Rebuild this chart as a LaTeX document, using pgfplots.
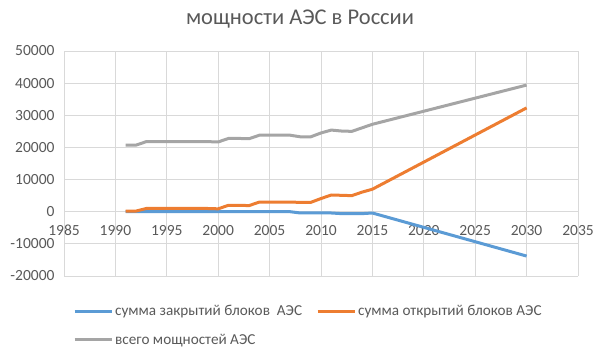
\documentclass[border=0pt]{standalone}
\usepackage{pgfplots}
\pgfplotsset{compat=1.18}
\usepackage{fontspec}
\setmainfont{Carlito}
\definecolor{cblue}{RGB}{91,155,213}
\definecolor{corange}{RGB}{237,125,49}
\definecolor{cgray}{RGB}{165,165,165}
\definecolor{ctext}{RGB}{89,89,89}
\definecolor{cgrid}{RGB}{217,217,217}
\begin{document}
\begin{tikzpicture}
\useasboundingbox (0,0) rectangle (605bp,364bp);
\node[anchor=base, text=ctext, font=\fontsize{22.5bp}{26bp}\selectfont, inner sep=0] at (300bp,339bp) {мощности АЭС в России};
\begin{axis}[
  at={(64bp,88bp)}, anchor=south west,
  scale only axis, width=514bp, height=225bp,
  xmin=1985, xmax=2035, ymin=-20000, ymax=50000,
  xtick={1985,1990,...,2035}, ytick={-20000,-10000,...,50000},
  scaled y ticks=false, scaled x ticks=false,
  hide obscured x ticks=false, hide obscured y ticks=false,
  axis x line=middle, axis y line=left,
  axis line style={-, cgrid, line width=0.8pt},
  grid=major, grid style={cgrid, line width=0.8pt},
  major tick length=0pt,
  /pgf/number format/1000 sep={},
  /pgf/number format/assume math mode=true,
  ticklabel style={text=ctext, font=\fontsize{15.5bp}{18bp}\selectfont},
  xticklabel style={yshift=-10bp},
  yticklabel style={xshift=-6bp},
  line join=round,
  legend columns=2,
  legend style={at={(9bp,-27bp)}, anchor=north west, draw=none, fill=none,
    inner sep=0pt, font=\fontsize{15.2bp}{17bp}\selectfont, text=ctext,
    /tikz/every even column/.append style={column sep=12bp},
    /tikz/every odd column/.append style={inner xsep=1bp},
    row sep=13bp},
  legend cell align=left,
  legend image code/.code={\draw[#1, line width=3bp] (0bp,0bp) -- (37bp,0bp);},
]
\addplot[cblue, line width=3bp, no markers] coordinates {
(1991,0)(1992,0)(1993,0)(1994,0)(1995,0)(1996,0)(1997,0)(1998,0)(1999,0)(2000,0)
(2001,0)(2002,0)(2003,0)(2004,0)(2005,0)(2006,0)(2007,0)(2008,-400)(2009,-400)
(2010,-400)(2011,-400)(2012,-600)(2013,-600)(2014,-600)(2015,-400)(2030,-13800)};
\addlegendentry{сумма закрытий блоков\ \ АЭС}
\addplot[corange, line width=3bp, no markers] coordinates {
(1991,200)(1992,200)(1993,1000)(1994,1000)(1995,1000)(1996,1000)(1997,1000)(1998,1000)(1999,1000)(2000,900)
(2001,2000)(2002,2000)(2003,1900)(2004,3000)(2005,3000)(2006,3000)(2007,3000)(2008,2900)(2009,2900)
(2010,4100)(2011,5200)(2012,5100)(2013,5000)(2014,6100)(2015,7000)(2030,32300)};
\addlegendentry{сумма открытий блоков АЭС}
\addplot[cgray, line width=3bp, no markers] coordinates {
(1991,20700)(1992,20700)(1993,21800)(1994,21800)(1995,21800)(1996,21800)(1997,21800)(1998,21800)(1999,21800)(2000,21700)
(2001,22800)(2002,22800)(2003,22700)(2004,23800)(2005,23800)(2006,23800)(2007,23800)(2008,23300)(2009,23300)
(2010,24500)(2011,25400)(2012,25100)(2013,25000)(2014,26100)(2015,27200)(2030,39400)};
\addlegendentry{всего мощностей АЭС}
\end{axis}
\end{tikzpicture}
\end{document}
